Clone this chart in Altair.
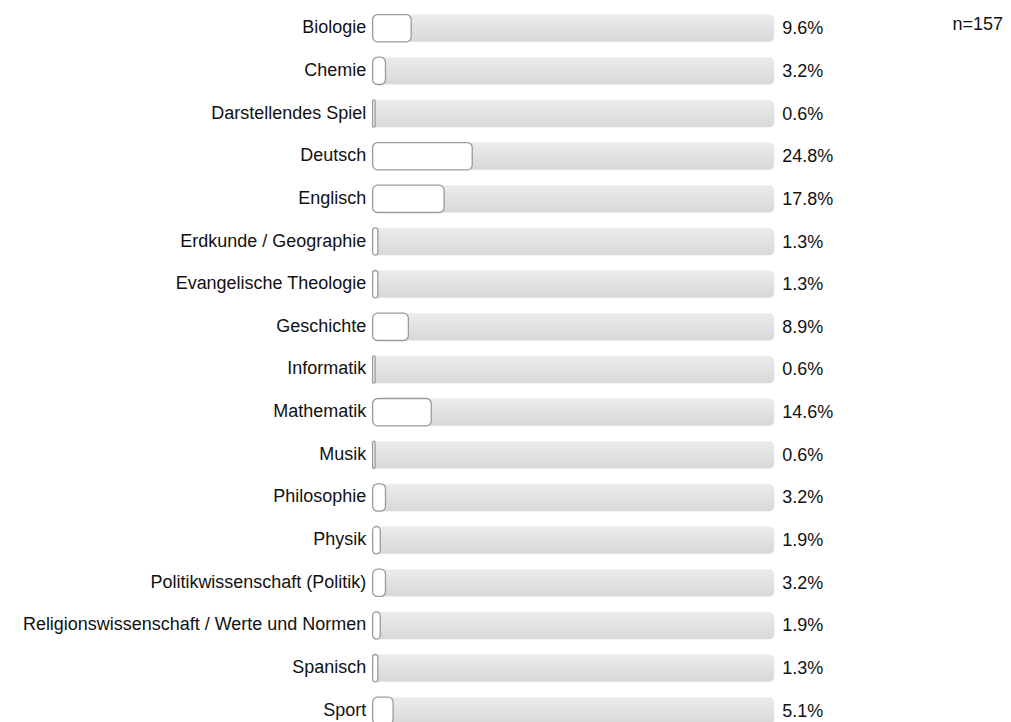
import altair as alt
import pandas as pd

subjects = ["Biologie", "Chemie", "Darstellendes Spiel", "Deutsch", "Englisch",
            "Erdkunde / Geographie", "Evangelische Theologie", "Geschichte",
            "Informatik", "Mathematik", "Musik", "Philosophie", "Physik",
            "Politikwissenschaft (Politik)", "Religionswissenschaft / Werte und Normen",
            "Spanisch", "Sport"]
percent = [9.6, 3.2, 0.6, 24.8, 17.8, 1.3, 1.3, 8.9, 0.6, 14.6, 0.6, 3.2, 1.9,
           3.2, 1.9, 1.3, 5.1]
n_label = "n=157"

df = pd.DataFrame({"subject": subjects, "pct": percent})
df["label"] = [f"{p}%" for p in percent]
df["full"] = 100

FONT = "Liberation Sans"

y = alt.Y("subject:N", sort=None, title=None,
          scale=alt.Scale(paddingInner=0.36, paddingOuter=0.145),
          axis=alt.Axis(domain=False, ticks=False, labelFontSize=18, labelFont=FONT,
                        labelColor="#111111", labelPadding=7, labelLimit=400))
xs = alt.Scale(domain=[0, 100], nice=False)

base = alt.Chart(df)

track = base.mark_bar(
    cornerRadius=5,
    color=alt.Gradient(gradient="linear", x1=0, y1=0, x2=0, y2=1,
                       stops=[alt.GradientStop(color="#ececec", offset=0),
                              alt.GradientStop(color="#d8d8d8", offset=1)])
).encode(
    y=y,
    x=alt.X("zero:Q", scale=xs, axis=None),
    x2="full:Q",
).transform_calculate(zero="0")

bars = base.mark_bar(cornerRadius=5, fill="white", stroke="#9a9a9a", strokeWidth=1.3).encode(
    y=y,
    x=alt.X("zero:Q", scale=xs, axis=None),
    x2="pct:Q",
).transform_calculate(zero="0")

labels = base.mark_text(align="left", baseline="middle", dx=8, dy=1, fontSize=18,
                        font=FONT, color="#111111").encode(
    y=y,
    x=alt.X("full:Q", scale=xs, axis=None),
    text="label:N",
)

ntext = alt.Chart(pd.DataFrame({"t": [n_label]})).mark_text(
    align="right", baseline="alphabetic", fontSize=18, font=FONT, color="#111111"
).encode(x=alt.value(631), y=alt.value(22), text="t:N")

chart = alt.layer(track, bars, labels, ntext).properties(
    width=402, height=723,
    autosize=alt.AutoSizeParams(type="none"),
    padding={"left": 365, "top": 0, "right": 229, "bottom": 0},
).configure_view(stroke=None)

chart.save("out.html", embed_options={"renderer": "svg", "actions": False})
